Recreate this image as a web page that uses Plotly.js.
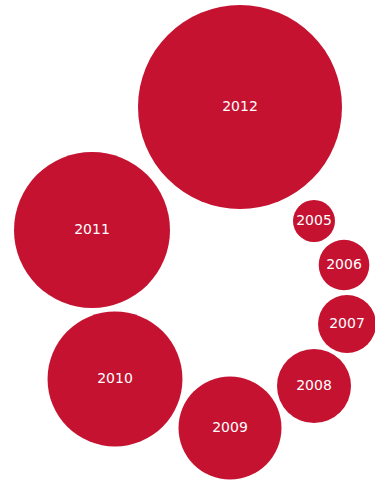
<!DOCTYPE html>
<html>
<head>
<meta charset="utf-8">
<script src="https://cdn.plot.ly/plotly-3.0.1.min.js"></script>
<style>html,body{margin:0;padding:0;background:#fff;}#chart{width:375px;height:481px;}</style>
</head>
<body>
<div id="chart"></div>
<script>
// Data
var years = ['2005', '2006', '2007', '2008', '2009', '2010', '2011', '2012'];
var values = [441, 640, 841, 1369, 2650, 4550, 6084, 10404];

// Layout of bubbles (spiral arrangement, in pixel units)
var centerX = [314, 344, 347, 314, 230, 115, 92, 240];
var centerY = [221, 265, 324, 386, 428, 379, 230, 107];

var trace = {
  type: 'scatter',
  mode: 'markers+text',
  x: centerX,
  y: centerY,
  text: years,
  textposition: 'middle center',
  textfont: {family: 'DejaVu Sans', size: 14, color: '#ffffff'},
  marker: {
    size: values,
    sizemode: 'area',
    sizeref: 0.5,
    color: '#C41230',
    opacity: 1,
    line: {width: 0}
  },
  hoverinfo: 'text',
  cliponaxis: false
};

var layout = {
  width: 375,
  height: 481,
  margin: {l: 0, r: 0, t: 0, b: 0},
  paper_bgcolor: '#ffffff',
  plot_bgcolor: '#ffffff',
  showlegend: false,
  xaxis: {range: [0, 375], visible: false, fixedrange: true},
  yaxis: {range: [481, 0], visible: false, fixedrange: true}
};

Plotly.newPlot('chart', [trace], layout, {displayModeBar: false, staticPlot: true});
</script>
</body>
</html>
